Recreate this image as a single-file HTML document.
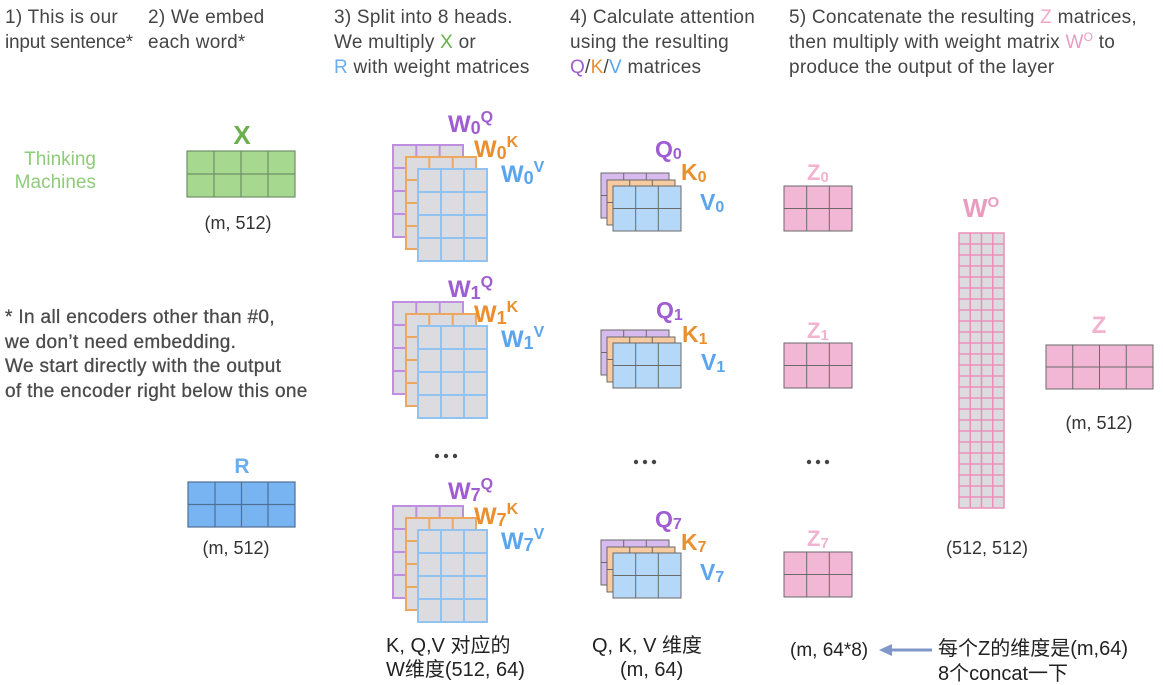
<!DOCTYPE html>
<html>
<head>
<meta charset="utf-8">
<style>
  html,body{margin:0;padding:0;background:#fff;}
  svg{display:block;}
  text{font-family:"Liberation Sans","Noto Sans CJK SC",sans-serif;}
</style>
</head>
<body>
<svg width="1163" height="685" viewBox="0 0 1163 685" xmlns="http://www.w3.org/2000/svg">
  <defs>
    <g id="wstack">
      <rect x="393" y="145" width="70" height="92" fill="#dcdce0" stroke="#c08ee0" stroke-width="2"/>
      <path d="M416.3 145V237M439.7 145V237M393 168H463M393 191H463M393 214H463" stroke="#c08ee0" stroke-width="2" fill="none"/>
      <rect x="406" y="157" width="70" height="92" fill="#dcdce0" stroke="#eea75e" stroke-width="2"/>
      <path d="M429.3 157V249M452.7 157V249M406 180H476M406 203H476M406 226H476" stroke="#eea75e" stroke-width="2" fill="none"/>
      <rect x="418" y="169" width="69" height="92" fill="#dcdce0" stroke="#90c2f2" stroke-width="2"/>
      <path d="M441 169V261M464 169V261M418 192H487M418 215H487M418 238H487" stroke="#90c2f2" stroke-width="2" fill="none"/>
    </g>
    <g id="qkv">
      <rect x="601" y="173" width="68" height="45" fill="#d8bbee" stroke="#6a6a6a" stroke-width="1"/>
      <path d="M623.7 173V218M646.3 173V218M601 195.5H669" stroke="#6a6a6a" stroke-width="1" fill="none"/>
      <rect x="607" y="180" width="68" height="45" fill="#f6cb9f" stroke="#6a6a6a" stroke-width="1"/>
      <path d="M629.7 180V225M652.3 180V225M607 202.5H675" stroke="#6a6a6a" stroke-width="1" fill="none"/>
      <rect x="613" y="186" width="68" height="45" fill="#b5d7f8" stroke="#6a6a6a" stroke-width="1"/>
      <path d="M635.7 186V231M658.3 186V231M613 208.5H681" stroke="#6a6a6a" stroke-width="1" fill="none"/>
    </g>
    <g id="zs">
      <rect x="784" y="186" width="68" height="45" fill="#f3b7d6" stroke="#6a6a6a" stroke-width="1"/>
      <path d="M806.7 186V231M829.3 186V231M784 208.5H852" stroke="#6a6a6a" stroke-width="1" fill="none"/>
    </g>
  </defs>

  <!-- Header texts -->
  <g font-size="19" fill="#454545" letter-spacing="0.25">
    <text x="5" y="23">1) This is our</text>
    <text x="5" y="48" letter-spacing="-0.2">input sentence*</text>
    <text x="148" y="23">2) We embed</text>
    <text x="148" y="48">each word*</text>
    <text x="334" y="23">3) Split into 8 heads.</text>
    <text x="334" y="48">We multiply <tspan fill="#6ab04c">X</tspan> or</text>
    <text x="334" y="73"><tspan fill="#6aaef0">R</tspan> with weight matrices</text>
    <text x="570" y="23">4) Calculate attention</text>
    <text x="570" y="48">using the resulting</text>
    <text x="570" y="73"><tspan fill="#a05dd2">Q</tspan>/<tspan fill="#eb8f2d">K</tspan>/<tspan fill="#5aa5ee">V</tspan> matrices</text>
    <text x="789" y="23">5) Concatenate the resulting <tspan fill="#f2a7c6">Z</tspan> matrices,</text>
    <text x="789" y="48">then multiply with weight matrix <tspan fill="#eb9bc0">W<tspan font-size="12" dy="-7">O</tspan></tspan><tspan dy="7"> to</tspan></text>
    <text x="789" y="73">produce the output of the layer</text>
  </g>

  <!-- Thinking Machines -->
  <g font-size="19" fill="#8fcb7b" text-anchor="end">
    <text x="96" y="165">Thinking</text>
    <text x="96" y="188">Machines</text>
  </g>

  <!-- X matrix -->
  <text x="242" y="144" font-size="26" font-weight="bold" fill="#6ab04c" text-anchor="middle">X</text>
  <rect x="187" y="151" width="108" height="46" fill="#a6d98f" stroke="#6f8f66" stroke-width="1.2"/>
  <path d="M214 151V197M241 151V197M268 151V197M187 174H295" stroke="#6f8f66" stroke-width="1.2" fill="none"/>
  <text x="238" y="229" font-size="18" fill="#333" text-anchor="middle">(m, 512)</text>

  <!-- Footnote -->
  <g font-size="19" fill="#4a4a4a" letter-spacing="0.35" stroke="#4a4a4a" stroke-width="0.3">
    <text x="5" y="323">* In all encoders other than #0,</text>
    <text x="5" y="348">we don’t need embedding.</text>
    <text x="5" y="372">We start directly with the output</text>
    <text x="5" y="397">of the encoder right below this one</text>
  </g>

  <!-- R matrix -->
  <text x="242" y="473" font-size="21" font-weight="bold" fill="#6aaef0" text-anchor="middle">R</text>
  <rect x="188" y="482" width="107" height="45" fill="#78b4f2" stroke="#4f6f93" stroke-width="1.2"/>
  <path d="M215 482V527M241.5 482V527M268 482V527M188 504.5H295" stroke="#4f6f93" stroke-width="1.2" fill="none"/>
  <text x="236" y="554" font-size="18" fill="#333" text-anchor="middle">(m, 512)</text>

  <!-- W stacks -->
  <use href="#wstack"/>
  <use href="#wstack" transform="translate(0,157)"/>
  <use href="#wstack" transform="translate(0,361)"/>

  <g font-size="24" font-weight="bold">
    <text x="448" y="132" fill="#a05dd2">W<tspan font-size="18" dy="2">0</tspan><tspan font-size="16" dy="-12">Q</tspan></text>
    <text x="474" y="157" fill="#eb8f2d">W<tspan font-size="18" dy="2">0</tspan><tspan font-size="16" dy="-12">K</tspan></text>
    <text x="501" y="182" fill="#5aa5ee">W<tspan font-size="18" dy="2">0</tspan><tspan font-size="16" dy="-12">V</tspan></text>

    <text x="448" y="297" fill="#a05dd2">W<tspan font-size="18" dy="2">1</tspan><tspan font-size="16" dy="-12">Q</tspan></text>
    <text x="474" y="322" fill="#eb8f2d">W<tspan font-size="18" dy="2">1</tspan><tspan font-size="16" dy="-12">K</tspan></text>
    <text x="501" y="347" fill="#5aa5ee">W<tspan font-size="18" dy="2">1</tspan><tspan font-size="16" dy="-12">V</tspan></text>

    <text x="448" y="499" fill="#a05dd2">W<tspan font-size="18" dy="2">7</tspan><tspan font-size="16" dy="-12">Q</tspan></text>
    <text x="474" y="524" fill="#eb8f2d">W<tspan font-size="18" dy="2">7</tspan><tspan font-size="16" dy="-12">K</tspan></text>
    <text x="501" y="549" fill="#5aa5ee">W<tspan font-size="18" dy="2">7</tspan><tspan font-size="16" dy="-12">V</tspan></text>
  </g>

  <!-- QKV stacks -->
  <use href="#qkv"/>
  <use href="#qkv" transform="translate(0,157)"/>
  <use href="#qkv" transform="translate(0,367)"/>
  <g font-size="23" font-weight="bold">
    <text x="655" y="157" fill="#a05dd2">Q<tspan font-size="16" dy="2">0</tspan></text>
    <text x="681" y="180" fill="#eb8f2d">K<tspan font-size="16" dy="2">0</tspan></text>
    <text x="700" y="210" fill="#5aa5ee">V<tspan font-size="16" dy="2">0</tspan></text>

    <text x="656" y="318" fill="#a05dd2">Q<tspan font-size="16" dy="2">1</tspan></text>
    <text x="682" y="342" fill="#eb8f2d">K<tspan font-size="16" dy="2">1</tspan></text>
    <text x="701" y="370" fill="#5aa5ee">V<tspan font-size="16" dy="2">1</tspan></text>

    <text x="655" y="527" fill="#a05dd2">Q<tspan font-size="16" dy="2">7</tspan></text>
    <text x="681" y="550" fill="#eb8f2d">K<tspan font-size="16" dy="2">7</tspan></text>
    <text x="700" y="580" fill="#5aa5ee">V<tspan font-size="16" dy="2">7</tspan></text>
  </g>

  <!-- Z small matrices -->
  <use href="#zs"/>
  <use href="#zs" transform="translate(0,157)"/>
  <use href="#zs" transform="translate(0,366)"/>
  <g font-size="22" font-weight="bold" fill="#f1b3cf">
    <text x="807" y="180">Z<tspan font-size="15" dy="2">0</tspan></text>
    <text x="807" y="338">Z<tspan font-size="15" dy="2">1</tspan></text>
    <text x="807" y="546">Z<tspan font-size="15" dy="2">7</tspan></text>
  </g>

  <!-- Dots -->
  <g fill="#444">
    <circle cx="437" cy="456" r="2.2"/><circle cx="446" cy="456" r="2.2"/><circle cx="455" cy="456" r="2.2"/>
    <circle cx="636" cy="462" r="2.2"/><circle cx="645" cy="462" r="2.2"/><circle cx="654" cy="462" r="2.2"/>
    <circle cx="809" cy="462" r="2.2"/><circle cx="818" cy="462" r="2.2"/><circle cx="827" cy="462" r="2.2"/>
  </g>

  <!-- W^O -->
  <text x="963" y="217" font-size="26" font-weight="bold" fill="#e99cc0">W<tspan font-size="15" dy="-10">O</tspan></text>
  <rect x="959" y="233" width="45" height="275" fill="#dcdbe0" stroke="#eb8fba" stroke-width="1.5"/>
  <path d="M970.25 233V508M981.5 233V508M992.75 233V508
           M959 244H1004M959 255H1004M959 266H1004M959 277H1004M959 288H1004
           M959 299H1004M959 310H1004M959 321H1004M959 332H1004M959 343H1004
           M959 354H1004M959 365H1004M959 376H1004M959 387H1004M959 398H1004
           M959 409H1004M959 420H1004M959 431H1004M959 442H1004M959 453H1004
           M959 464H1004M959 475H1004M959 486H1004M959 497H1004"
        stroke="#eb8fba" stroke-width="1.5" fill="none"/>
  <text x="987" y="554" font-size="18" fill="#333" text-anchor="middle">(512, 512)</text>

  <!-- Final Z -->
  <text x="1099" y="333" font-size="24" font-weight="bold" fill="#f1b3cf" text-anchor="middle">Z</text>
  <rect x="1046" y="345" width="107" height="44" fill="#f3b7d6" stroke="#6a6a6a" stroke-width="1"/>
  <path d="M1072.75 345V389M1099.5 345V389M1126.25 345V389M1046 367H1153" stroke="#6a6a6a" stroke-width="1" fill="none"/>
  <text x="1099" y="429" font-size="18" fill="#333" text-anchor="middle">(m, 512)</text>

  <!-- Bottom annotations -->
  <g font-size="20" fill="#222">
    <text x="386" y="652">K, Q,V 对应的</text>
    <text x="386" y="676">W维度(512, 64)</text>
    <text x="592" y="652">Q, K, V 维度</text>
    <text x="620" y="676">(m, 64)</text>
    <text x="790" y="656" font-size="19">(m, 64*8)</text>
    <text x="938" y="655">每个Z的维度是(m,64)</text>
    <text x="938" y="680">8个concat一下</text>
  </g>
  <line x1="932" y1="650" x2="890" y2="650" stroke="#7f98c9" stroke-width="3"/>
  <polygon points="879,650 892,644 892,656" fill="#7f98c9"/>
</svg>
</body>
</html>
